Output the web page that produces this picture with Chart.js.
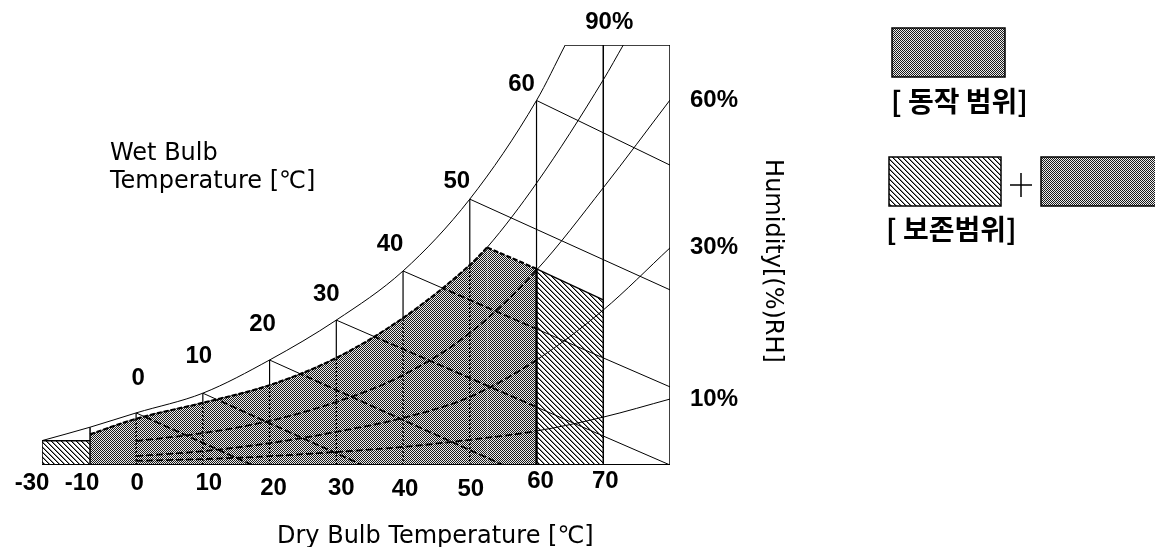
<!DOCTYPE html>
<html>
<head>
<meta charset="utf-8">
<script src="https://cdn.jsdelivr.net/npm/chart.js@4"></script>
<style>
  html, body { margin: 0; padding: 0; background: #fff; }
  canvas { display: block; }
</style>
</head>
<body>
<canvas id="psychroChart" width="1155" height="547"></canvas>
<script>
// dry bulb axis ticks [°C]
const dryBulbTicks = [-30, -10, 0, 10, 20, 30, 40, 50, 60, 70];

// saturation curve, y on a 0..100 chart scale
const satTemps = [-30, -10, 0, 10, 20, 30, 40, 50, 60, 64.3];
const satValues = [5.8, 9.0, 12.4, 17.1, 25.0, 34.5, 46.2, 63.3, 86.8, 100];

// relative humidity curves
const rh90Temps = [-10, 0, 10, 20, 30, 40, 50, 52.6, 60, 70, 73];
const rh90Values = [7.3, 11.0, 14.8, 19.0, 25.5, 35.0, 47.6, 51.8, 67.1, 91.7, 100];
const rhTemps = [0, 10, 20, 30, 40, 50, 60, 70, 80];
const rh60Values = [5.7, 7.6, 10.5, 15.0, 21.4, 31.4, 46.4, 66.0, 86.9];
const rh30Values = [2.1, 3.3, 5.2, 7.9, 11.2, 16.2, 25.0, 36.9, 51.7];
const rh10Values = [1.0, 1.4, 2.1, 3.1, 4.3, 6.0, 8.1, 11.4, 15.7];
const rhLabels = ['90%', '60%', '30%', '10%'];

// wet bulb lines, they start on the saturation curve
const wetBulbTemps = [0, 10, 20, 30, 40, 50, 60];
const wetBulbEndTemps = [17.4, 33.9, 55.0, 80, 80, 80, 80];
const wetBulbEndValues = [0, 0, 0, 0, 18.6, 41.7, 71.4];

// upper limit of operating / storage range
const limitTemps = [52.6, 60, 70];
const limitValues = [51.8, 46.7, 39.3];
const storageLowTemps = [-30, -10];
const storageLowValues = [5.8, 5.8];

// small pixel tweaks for the text
const tickNudge = [[-10, 0], [-8, 0], [1, 0], [6, 0], [4, 5], [5, 5], [2, 6], [1, 6], [4, -2], [2, -2]];
const wetLabelNudge = [[2, -35], [-4, -37], [-7, -36], [-10, -26], [-13, -27], [-13, -18], [-15, -16]];

// the axis is squeezed below 0 °C
function axisPos(t) {
    if (t >= 0) return t;
    if (t >= -10) return t * 0.69;
    return -6.9 + (t + 10) * 0.36;
}

const ctxMain = document.getElementById('psychroChart').getContext('2d');

function checkerPattern() {
    const c = document.createElement('canvas');
    c.width = 2;
    c.height = 2;
    const g = c.getContext('2d');
    g.fillStyle = '#ececec';
    g.fillRect(0, 0, 2, 2);
    g.fillStyle = '#1a1a1a';
    g.fillRect(0, 0, 1, 1);
    g.fillRect(1, 1, 1, 1);
    return ctxMain.createPattern(c, 'repeat');
}

function hatchPattern() {
    const n = 5;
    const c = document.createElement('canvas');
    c.width = n;
    c.height = n;
    const g = c.getContext('2d');
    g.fillStyle = '#fff';
    g.fillRect(0, 0, n, n);
    for (let i = 0; i < n; i++) {
        g.fillStyle = '#000';
        g.fillRect(i, i, 1, 1);
        g.fillStyle = '#8a8a8a';
        g.fillRect((i + 1) % n, i, 1, 1);
    }
    return ctxMain.createPattern(c, 'repeat');
}

const gray = checkerPattern();
const hatch = hatchPattern();

const pts = (ts, vs) => ts.map((t, i) => ({ x: axisPos(t), y: vs[i] }));
const satAt = t => satValues[satTemps.indexOf(t)];
const pick = (ts, vs, test) => {
    const idx = ts.map((t, i) => i).filter(i => test(ts[i]));
    return pts(idx.map(i => ts[i]), idx.map(i => vs[i]));
};

const datasets = [];

function line(data, opts) {
    datasets.push(Object.assign({
        data: data,
        borderColor: '#000',
        borderWidth: 1,
        pointRadius: 0,
        fill: false,
        order: 40
    }, opts));
}

// dashed copy, only visible inside the operating range
function inside(data, opts) {
    line(data, Object.assign({ order: 20, grayClip: true, borderWidth: 1.8, borderDash: [7, 3] }, opts));
}

// storage range (hatched)
line(pts(storageLowTemps, storageLowValues), { fill: 'origin', backgroundColor: hatch, borderWidth: 1.5, order: 50 });
line(pick(limitTemps, limitValues, t => t >= 60), { fill: 'origin', backgroundColor: hatch, borderWidth: 1.5, order: 50 });

// dry bulb verticals
dryBulbTicks.filter(t => t < 70).forEach(t => {
    const v = pts([t, t], [0, satAt(t)]);
    if (t === -30 || t === -10) {
        line(v, { borderWidth: 1.5, order: 10 });
    } else {
        line(v, { borderWidth: 1.2 });
        if (t < 60) inside(v, { borderDash: [2, 2], borderWidth: 1.5 });
    }
});
line(pts([60, 60], [0, limitValues[1]]), { borderWidth: 2.4, order: 10 });
line(pts([70, 70], [0, 100]), { borderWidth: 1.5, order: 10 });

// humidity curves
const curve = { cubicInterpolationMode: 'monotone' };
line(pts(satTemps, satValues), curve);
line(pts(rh90Temps, rh90Values), curve);
[rh60Values, rh30Values, rh10Values].forEach(vals => {
    line(pts(rhTemps, vals), curve);
    inside(pts(rhTemps, vals), curve);
});

// wet bulb lines
wetBulbTemps.forEach((t, i) => {
    const v = pts([t, wetBulbEndTemps[i]], [satAt(t), wetBulbEndValues[i]]);
    line(v);
    inside(v);
});

// operating range (gray)
const opArea = { fill: 'origin', backgroundColor: gray, borderWidth: 2.2, borderDash: [5, 2], order: 30, grayArea: true };
line(pick(rh90Temps, rh90Values, t => t <= limitTemps[0]), Object.assign({ cubicInterpolationMode: 'monotone' }, opArea));
line(pick(limitTemps, limitValues, t => t <= 60), opArea);

// frame
line(pts([-30, 80], [0, 0]), { borderWidth: 2, order: 5 });
line(pts([80, 80], [0, 100]), { borderWidth: 1.5, order: 5 });
line(pts([satTemps[satTemps.length - 1], 80], [100, 100]), { borderWidth: 1.5, order: 5 });

const grayClip = {
    id: 'grayClip',
    beforeDatasetDraw(chart, args) {
        if (!chart.data.datasets[args.index].grayClip) return;
        const ctx = chart.ctx;
        const bottom = chart.scales.y.getPixelForValue(0);
        ctx.save();
        ctx.beginPath();
        chart.data.datasets.forEach((ds, i) => {
            if (!ds.grayArea) return;
            const meta = chart.getDatasetMeta(i);
            const p = meta.data;
            if (meta.dataset && meta.dataset.path) {
                meta.dataset.path(ctx);
            } else {
                p.forEach((q, k) => k ? ctx.lineTo(q.x, q.y) : ctx.moveTo(q.x, q.y));
            }
            ctx.lineTo(p[p.length - 1].x, bottom);
            ctx.lineTo(p[0].x, bottom);
            ctx.closePath();
        });
        ctx.clip();
    },
    afterDatasetDraw(chart, args) {
        if (chart.data.datasets[args.index].grayClip) chart.ctx.restore();
    }
};

function swatch(ctx, x, y, w, h, fill) {
    ctx.fillStyle = fill;
    ctx.fillRect(x, y, w, h);
    ctx.lineWidth = 1.5;
    ctx.strokeStyle = '#000';
    ctx.strokeRect(x, y, w, h);
}

const labels = {
    id: 'labels',
    afterDraw(chart) {
        const ctx = chart.ctx;
        const x = chart.scales.x;
        const y = chart.scales.y;
        const px = t => x.getPixelForValue(axisPos(t));
        const py = v => y.getPixelForValue(v);
        ctx.save();
        ctx.fillStyle = '#000';
        ctx.textAlign = 'center';
        ctx.textBaseline = 'middle';
        ctx.font = 'bold 24px "Liberation Sans", Arial, sans-serif';
        dryBulbTicks.forEach((t, i) => {
            ctx.fillText(String(t), px(t) + tickNudge[i][0], 483 + tickNudge[i][1]);
        });
        wetBulbTemps.forEach((t, i) => {
            ctx.fillText(String(t), px(t) + wetLabelNudge[i][0], py(satAt(t)) + wetLabelNudge[i][1]);
        });
        ctx.fillText(rhLabels[0], px(rh90Temps[rh90Temps.length - 1]) - 14, 22);
        ctx.textAlign = 'left';
        [rh60Values, rh30Values, rh10Values].forEach((vals, i) => {
            ctx.fillText(rhLabels[i + 1], x.right + 20, py(vals[vals.length - 1]));
        });

        ctx.font = '24px "DejaVu Sans", sans-serif';
        ctx.textBaseline = 'alphabetic';
        ctx.fillText('Wet Bulb', 110, 160);
        ctx.fillText('Temperature [℃]', 110, 188);
        ctx.fillText('Dry Bulb Temperature [℃]', 277, 543);

        ctx.save();
        ctx.translate(772, 261);
        ctx.rotate(Math.PI / 2);
        ctx.textAlign = 'center';
        ctx.textBaseline = 'middle';
        ctx.fillText('Humidity[(%)RH]', 0, 0);
        ctx.restore();

        // legend
        swatch(ctx, 892, 28, 113, 49, gray);
        swatch(ctx, 889, 157, 112, 49, hatch);
        swatch(ctx, 1041, 157, 120, 49, gray);
        ctx.beginPath();
        ctx.lineWidth = 1.5;
        ctx.moveTo(1010, 185);
        ctx.lineTo(1032, 185);
        ctx.moveTo(1021, 173);
        ctx.lineTo(1021, 197);
        ctx.stroke();
        ctx.fillStyle = '#000';
        ctx.font = 'bold 28px "Noto Sans CJK KR", sans-serif';
        ctx.textBaseline = 'middle';
        ctx.fillText('[ 동작 범위]', 891, 101);
        ctx.fillText('[ 보존범위]', 886, 229);
        ctx.restore();
    }
};

new Chart(ctxMain, {
    type: 'line',
    data: { datasets: datasets },
    options: {
        responsive: false,
        animation: false,
        events: [],
        layout: { padding: { left: 42, right: 485, top: 45, bottom: 82 } },
        scales: {
            x: { type: 'linear', min: axisPos(-30), max: 80, display: false },
            y: { type: 'linear', min: 0, max: 100, display: false }
        },
        plugins: {
            legend: { display: false },
            tooltip: { enabled: false }
        }
    },
    plugins: [grayClip, labels]
});
</script>
</body>
</html>
